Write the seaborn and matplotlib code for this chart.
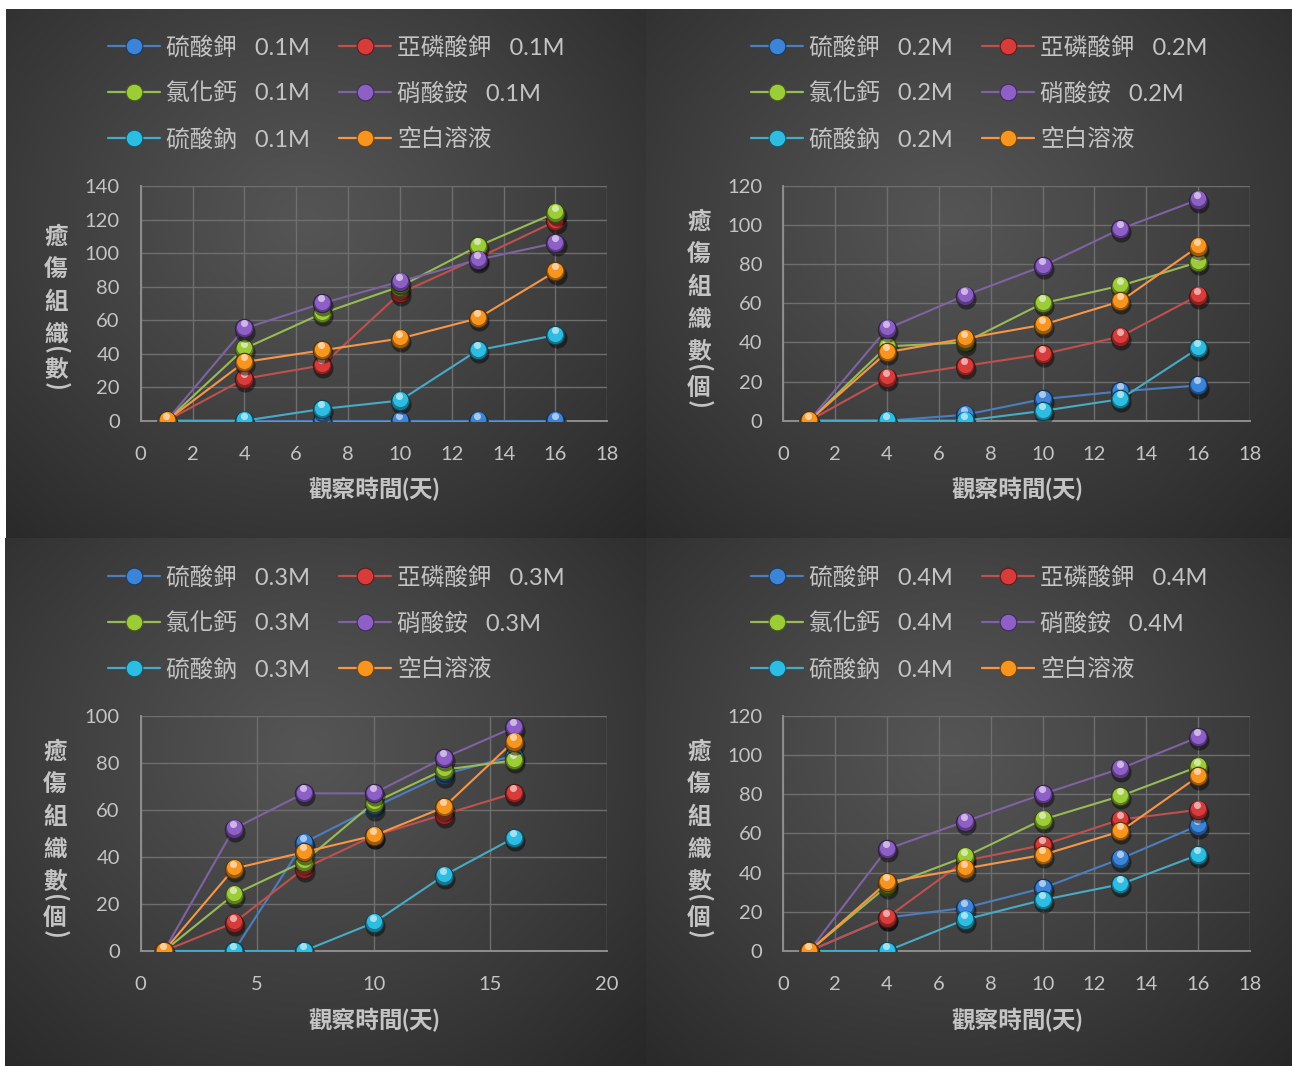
import numpy as np
import matplotlib
matplotlib.use("Agg")
import matplotlib.pyplot as plt
import matplotlib.transforms as mtransforms
import matplotlib.colors as mcolors
from matplotlib.lines import Line2D
import seaborn as sns

# ---- data: callus counts observed on each day, one row per concentration ----
days = [1, 4, 7, 10, 13, 16]
concentrations = ["0.1M", "0.2M", "0.3M", "0.4M"]
solutes = ["硫酸鉀", "亞磷酸鉀", "氯化鈣", "硝酸銨", "硫酸鈉", "空白溶液"]

potassium_sulfate = [[0, 0, 0, 0, 0, 0],
                     [0, 0, 3, 11, 15, 18],
                     [0, 0, 46, 61, 75, 83],
                     [0, 17, 22, 32, 47, 64]]
potassium_phosphite = [[0, 25, 33, 76, 97, 119],
                       [0, 22, 28, 34, 43, 64],
                       [0, 12, 35, 49, 58, 67],
                       [0, 17, 46, 54, 67, 72]]
calcium_chloride = [[0, 43, 64, 80, 104, 124],
                    [0, 38, 40, 60, 69, 81],
                    [0, 24, 38, 63, 77, 81],
                    [0, 33, 48, 67, 79, 94]]
ammonium_nitrate = [[0, 55, 70, 83, 96, 106],
                    [0, 47, 64, 79, 98, 113],
                    [0, 52, 67, 67, 82, 95],
                    [0, 52, 66, 80, 93, 109]]
sodium_sulfate = [[0, 0, 7, 12, 42, 51],
                  [0, 0, 0, 5, 11, 37],
                  [0, 0, 0, 12, 32, 48],
                  [0, 0, 16, 26, 34, 49]]
blank_solution = [0, 35, 42, 49, 61, 89]

y_max = [140, 120, 100, 120]
x_max = [18, 18, 20, 18]
x_step = [2, 2, 5, 2]
y_titles = [["癒", "傷", "組", "織", "(", "數", ")"],
            ["癒", "傷", "組", "織", "數", "(", "個", ")"],
            ["癒", "傷", "組", "織", "數", "(", "個", ")"],
            ["癒", "傷", "組", "織", "數", "(", "個", ")"]]
x_title = "觀察時間(天)"

line_colors = ["#4a7ebf", "#c0504d", "#98bb55", "#7f62a3", "#47abc8", "#f79646"]
ball_colors = ["#3c84d8", "#d83c3a", "#9ccc38", "#8e5fc6", "#2ebde2", "#f7951f"]

# ---- styling ----
sns.set_style("dark")
plt.rcParams["font.family"] = ["Lato", "Noto Sans CJK TC", "DejaVu Sans"]
text_color = "#c4c4c4"

W, H = 1292, 1066
fig = plt.figure(figsize=(W / 100, H / 100), dpi=100, facecolor="white")


def px_box(x0, y0, x1, y1):
    return [x0 / W, 1 - y1 / H, (x1 - x0) / W, (y1 - y0) / H]


def tile_background(box):
    bg = fig.add_axes(px_box(*box), zorder=-10)
    w = int(box[2] - box[0])
    h = int(box[3] - box[1])
    yy, xx = np.mgrid[0:h, 0:w]
    r = np.hypot((xx - 0.47 * w) / (0.78 * w), (yy - 0.40 * h) / (0.85 * h))
    t = np.clip(r, 0, 1) ** 1.1
    inner = np.array([0x55, 0x55, 0x55]) / 255
    outer = np.array([0x26, 0x26, 0x26]) / 255
    img = inner * (1 - t[..., None]) + outer * t[..., None]
    bg.imshow(img, aspect="auto", interpolation="bilinear")
    bg.set_axis_off()


def shade(color, f):
    c = np.array(mcolors.to_rgb(color))
    return tuple(np.clip(c * f, 0, 1))


def tint(color, f):
    c = np.array(mcolors.to_rgb(color))
    return tuple(c + (1 - c) * f)


def draw_balls(ax, x, y, color, z):
    down = mtransforms.offset_copy(ax.transData, fig=fig, x=0.8, y=-2.2, units="points")
    up = mtransforms.offset_copy(ax.transData, fig=fig, x=0, y=1.0, units="points")
    top = mtransforms.offset_copy(ax.transData, fig=fig, x=-0.6, y=3.6, units="points")
    sns.scatterplot(x=x, y=y, ax=ax, s=210, color="black", alpha=0.45,
                    linewidth=0, transform=down, zorder=z, legend=False)
    sns.scatterplot(x=x, y=y, ax=ax, s=175, color=shade(color, 0.62),
                    edgecolor=shade(color, 0.35), linewidth=0.8, zorder=z + 0.1, legend=False)
    sns.scatterplot(x=x, y=y, ax=ax, s=118, color=color, linewidth=0,
                    transform=up, zorder=z + 0.2, legend=False)
    sns.scatterplot(x=x, y=y, ax=ax, s=26, color=tint(color, 0.7), alpha=0.8,
                    linewidth=0, transform=top, zorder=z + 0.3, legend=False)


def stacked_title(chars, x_px, y_px):
    prev = None
    y = y_px
    for ch in chars:
        paren = ch in "()"
        if prev is not None:
            if paren:
                y += 16
            elif prev in "()":
                y += 20
            else:
                y += 32.5
        fig.text(x_px / W, 1 - y / H, ch, ha="center", va="center",
                 rotation=-90 if paren else 0,
                 fontsize=17, fontweight="bold", color=text_color,
                 family=["Noto Sans CJK TC"])
        prev = ch


tiles = [(6, 9, 646, 538), (646, 9, 1292, 538), (5, 538, 646, 1066), (646, 538, 1292, 1066)]
plots = [(140.7, 186, 607.3, 420.7), (783.3, 186, 1250, 420.7),
         (140.7, 715.7, 606.7, 951), (783.3, 715.7, 1250, 951)]
legend_origin = [(108, 36), (751, 36), (108, 566), (751, 566)]
title_pos = [(56, 237), (699, 222), (55, 752), (699, 752)]

series_all = [potassium_sulfate, potassium_phosphite, calcium_chloride,
              ammonium_nitrate, sodium_sulfate]

for p in range(4):
    tile_background(tiles[p])
    ax = fig.add_axes(px_box(*plots[p]))
    ax.set_facecolor("none")

    values = [s[p] for s in series_all] + [blank_solution]
    conc = concentrations[p]
    labels = [f"{name}   {conc}" for name in solutes[:5]] + [solutes[5]]

    for i, vals in enumerate(values):
        z = 3 + i
        sns.lineplot(x=days, y=vals, ax=ax, color=line_colors[i], linewidth=1.5,
                     zorder=z - 0.05, legend=False)
        draw_balls(ax, days, vals, ball_colors[i], z)

    ax.set_xlim(0, x_max[p])
    ax.set_ylim(0, y_max[p])
    ax.set_xticks(np.arange(0, x_max[p] + 1, x_step[p]))
    ax.set_yticks(np.arange(0, y_max[p] + 1, 20))
    ax.grid(True, color="#6e6e6e", linewidth=1.0)
    ax.set_axisbelow(True)
    for side in ["top", "right"]:
        ax.spines[side].set_visible(False)
    for side in ["left", "bottom"]:
        ax.spines[side].set_visible(True)
        ax.spines[side].set_color("#8e8e8e")
        ax.spines[side].set_linewidth(1.4)
    ax.tick_params(axis="both", colors=text_color, labelsize=14.5, length=0)
    ax.tick_params(axis="x", pad=18)
    ax.tick_params(axis="y", pad=15)
    ax.set_ylabel("")
    ax.set_xlabel(x_title, fontsize=17, fontweight="bold", color=text_color)
    ax.xaxis.set_label_coords(0.5, -0.24)

    # legend: two columns, three rows
    order = [0, 2, 4, 1, 3, 5]
    handles = [Line2D([], [], color=line_colors[i], linewidth=1.6, marker="o",
                      markersize=12, markerfacecolor=ball_colors[i],
                      markeredgecolor=shade(ball_colors[i], 0.45), markeredgewidth=0.8)
               for i in order]
    lx, ly = legend_origin[p]
    ax.legend(handles, [labels[i] for i in order], ncol=2, frameon=False,
              loc="upper left", bbox_to_anchor=(lx / W, 1 - ly / H),
              bbox_transform=fig.transFigure, fontsize=17, labelcolor=text_color,
              handlelength=2.2, handletextpad=0.25, columnspacing=1.25,
              labelspacing=1.0, borderpad=0, borderaxespad=0)

    stacked_title(y_titles[p], *title_pos[p])

fig.savefig("out.png", dpi=100, facecolor="white")
